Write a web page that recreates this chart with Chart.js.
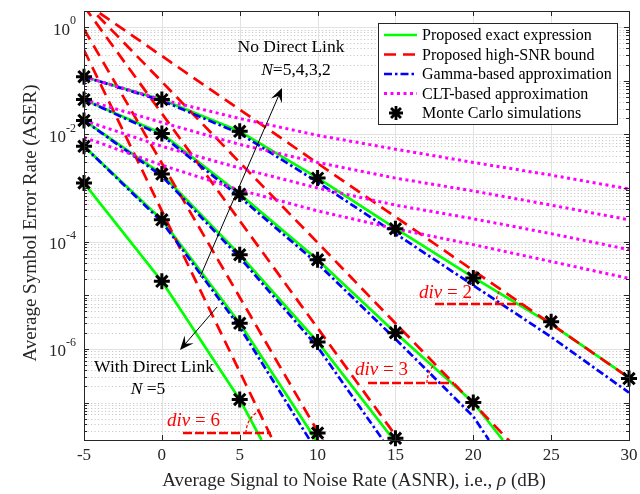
<!DOCTYPE html>
<html><head><meta charset="utf-8">
<script src="https://cdn.jsdelivr.net/npm/chart.js@4/dist/chart.umd.min.js"></script>
<style>html,body{margin:0;padding:0;background:#fff}#wrap{width:640px;height:494px}</style>
</head><body><div id="wrap"><canvas id="c" width="640" height="494"></canvas></div>
<script>
// ---------- data ----------
const snrDb = [-5, 0, 5, 10, 15, 20, 25, 30];
const xTicks = [-5, 0, 5, 10, 15, 20, 25, 30];
const yTickExponents = [0, -2, -4, -6];

// Monte Carlo simulations (No direct link N=2,3,4,5 ; With direct link N=5)
const mcNoDirectN2 = [0.119, 0.0445, 0.0114, 1.53e-3, 1.74e-4, 2.1e-5, 3.2e-6, 2.8e-7];
const mcNoDirectN3 = [0.0445, 0.0104, 7.7e-4, 4.6e-5, 2.0e-6, 1.0e-7, null, null];
const mcNoDirectN4 = [0.0182, 1.82e-3, 5.7e-5, 1.35e-6, 2.15e-8, null, null, null];
const mcNoDirectN5 = [6.0e-3, 2.55e-4, 3.0e-6, 2.7e-8, null, null, null, null];
const mcDirectN5   = [1.24e-3, 1.82e-5, 1.14e-7, null, null, null, null, null];

// Proposed exact expression
const xExactN2 = [-5, 0, 5, 10, 15, 20, 25, 30];
const exactNoDirectN2 = [0.119, 0.0445, 0.0114, 1.55e-3, 1.76e-4, 2.15e-5, 2.9e-6, 2.9e-7];
const xExactN3 = [-5, 0, 5, 10, 15, 20, 21.9];
const exactNoDirectN3 = [0.0445, 0.0104, 7.7e-4, 4.6e-5, 2.0e-6, 1.0e-7, 2e-8];
const xExactN4 = [-5, 0, 5, 10, 14.9];
const exactNoDirectN4 = [0.0182, 1.82e-3, 5.7e-5, 1.35e-6, 2e-8];
const xExactN5 = [-5, 0, 5, 9.9];
const exactNoDirectN5 = [6.0e-3, 2.55e-4, 3.0e-6, 2e-8];
const xExactD5 = [-5, 0, 5, 6.4];
const exactDirectN5 = [1.24e-3, 1.82e-5, 1.14e-7, 2e-8];

// Proposed high-SNR bound
const xBoundN2 = [-5, 0, 5, 10, 15, 20, 25, 30];
const boundNoDirectN2 = [2.9, 0.29, 0.029, 2.9e-3, 2.9e-4, 2.9e-5, 2.9e-6, 2.9e-7];
const xBoundN3 = [-5, 0, 5, 10, 15, 20, 25];
const boundNoDirectN3 = [3.0, 0.096, 3.0e-3, 9.6e-5, 3.0e-6, 9.6e-8, 3.0e-9];
const xBoundN4 = [-5, 0, 5, 10, 15, 20];
const boundNoDirectN4 = [2.45, 0.0245, 2.45e-4, 2.45e-6, 2.45e-8, 2.45e-10];
const xBoundN5 = [-5, 0, 5, 10, 15];
const boundNoDirectN5 = [0.92, 2.9e-3, 9.2e-6, 2.9e-8, 9.2e-11];
const xBoundD5 = [-5, 0, 5, 10];
const boundDirectN5 = [0.375, 3.75e-4, 3.75e-7, 3.75e-10];

// Gamma-based approximation
const xGammaN2 = [-5, 0, 5, 10, 15, 20, 25, 30];
const gammaNoDirectN2 = [0.119, 0.0426, 0.0104, 1.29e-3, 1.41e-4, 1.53e-5, 1.67e-6, 1.53e-7];
const xGammaN3 = [-5, 0, 5, 10, 15, 20, 21.0];
const gammaNoDirectN3 = [0.0445, 9.6e-3, 6.8e-4, 3.9e-5, 1.53e-6, 5.5e-8, 2e-8];
const xGammaN4 = [-5, 0, 5, 10, 14.2];
const gammaNoDirectN4 = [0.0182, 1.67e-3, 5.06e-5, 1.09e-6, 2e-8];
const xGammaN5 = [-5, 0, 5, 9.5];
const gammaNoDirectN5 = [6.0e-3, 2.35e-4, 2.55e-6, 2e-8];

// CLT-based approximation
const cltNoDirectN2 = [0.119, 0.0445, 0.0198, 9.6e-3, 5.3e-3, 3.0e-3, 1.74e-3, 9.6e-4];
const cltNoDirectN3 = [0.0445, 0.0167, 6.5e-3, 3.0e-3, 1.53e-3, 8.8e-4, 4.8e-4, 2.55e-4];
const cltNoDirectN4 = [0.0182, 6.0e-3, 2.35e-3, 1.0e-3, 4.8e-4, 2.67e-4, 1.41e-4, 7.1e-5];
const cltNoDirectN5 = [8.8e-3, 2.67e-3, 9.2e-4, 3.75e-4, 1.74e-4, 8.8e-5, 4.26e-5, 2.06e-5];

const legendLabels = ['Proposed exact expression', 'Proposed high-SNR bound', 'Gamma-based approximation', 'CLT-based approximation', 'Monte Carlo simulations'];

// ---------- helpers ----------
function zip(xs, ys) { const o = []; for (let i = 0; i < xs.length; i++) { if (ys[i] !== null && ys[i] !== undefined) o.push({x: xs[i], y: ys[i]}); } return o; }
const GREEN = '#00ff00', RED = '#ff0000', BLUE = '#0000ff', MAG = '#ff00ff';
const FONT = "'Liberation Serif', 'Times New Roman', serif";
const DASH_RED = [12, 7], DASH_BLUE = [8, 3, 2.5, 3], DASH_MAG = [3, 3.5];
function lineDs(label, data, color, dash, width, order) {
  return {label, data, borderColor: color, backgroundColor: color, borderWidth: width, borderDash: dash,
    pointRadius: 0, pointHoverRadius: 0, tension: 0, fill: false, order, borderCapStyle: 'butt', borderJoinStyle: 'round'};
}
function mcDs(label, values) {
  return {label, data: zip(snrDb, values), showLine: false, pointStyle: 'star', pointRadius: 8,
    pointBorderColor: '#000', pointBackgroundColor: '#000', pointBorderWidth: 3, order: 0, clip: false};
}

const datasets = [
  lineDs(legendLabels[0], zip(xExactN2, exactNoDirectN2), GREEN, [], 2.7, 5),
  lineDs(legendLabels[0], zip(xExactN3, exactNoDirectN3), GREEN, [], 2.7, 5),
  lineDs(legendLabels[0], zip(xExactN4, exactNoDirectN4), GREEN, [], 2.7, 5),
  lineDs(legendLabels[0], zip(xExactN5, exactNoDirectN5), GREEN, [], 2.7, 5),
  lineDs(legendLabels[0], zip(xExactD5, exactDirectN5), GREEN, [], 2.7, 5),
  lineDs(legendLabels[1], zip(xBoundN2, boundNoDirectN2), RED, DASH_RED, 2.7, 4),
  lineDs(legendLabels[1], zip(xBoundN3, boundNoDirectN3), RED, DASH_RED, 2.7, 4),
  lineDs(legendLabels[1], zip(xBoundN4, boundNoDirectN4), RED, DASH_RED, 2.7, 4),
  lineDs(legendLabels[1], zip(xBoundN5, boundNoDirectN5), RED, DASH_RED, 2.7, 4),
  lineDs(legendLabels[1], zip(xBoundD5, boundDirectN5), RED, DASH_RED, 2.7, 4),
  lineDs(legendLabels[2], zip(xGammaN2, gammaNoDirectN2), BLUE, DASH_BLUE, 2.7, 3),
  lineDs(legendLabels[2], zip(xGammaN3, gammaNoDirectN3), BLUE, DASH_BLUE, 2.7, 3),
  lineDs(legendLabels[2], zip(xGammaN4, gammaNoDirectN4), BLUE, DASH_BLUE, 2.7, 3),
  lineDs(legendLabels[2], zip(xGammaN5, gammaNoDirectN5), BLUE, DASH_BLUE, 2.7, 3),
  lineDs(legendLabels[3], zip(snrDb, cltNoDirectN2), MAG, DASH_MAG, 3, 2),
  lineDs(legendLabels[3], zip(snrDb, cltNoDirectN3), MAG, DASH_MAG, 3, 2),
  lineDs(legendLabels[3], zip(snrDb, cltNoDirectN4), MAG, DASH_MAG, 3, 2),
  lineDs(legendLabels[3], zip(snrDb, cltNoDirectN5), MAG, DASH_MAG, 3, 2),
  mcDs(legendLabels[4], mcNoDirectN2),
  mcDs(legendLabels[4], mcNoDirectN3),
  mcDs(legendLabels[4], mcNoDirectN4),
  mcDs(legendLabels[4], mcNoDirectN5),
  mcDs(legendLabels[4], mcDirectN5)
];

// ---------- drawing helpers ----------
function drawStar(ctx, x, y, r, w) {
  ctx.save(); ctx.strokeStyle = '#000'; ctx.lineWidth = w; ctx.beginPath();
  for (let k = 0; k < 4; k++) { const a = k * Math.PI / 4; ctx.moveTo(x - r * Math.cos(a), y - r * Math.sin(a)); ctx.lineTo(x + r * Math.cos(a), y + r * Math.sin(a)); }
  ctx.stroke(); ctx.restore();
}
function drawArrow(ctx, x1, y1, x2, y2) {
  ctx.save(); ctx.strokeStyle = '#000'; ctx.fillStyle = '#000'; ctx.lineWidth = 1;
  const ang = Math.atan2(y2 - y1, x2 - x1), L = 14, W = 6;
  const bx = x2 - L * Math.cos(ang), by = y2 - L * Math.sin(ang);
  ctx.beginPath(); ctx.moveTo(x1, y1); ctx.lineTo(x2 - 6 * Math.cos(ang), y2 - 6 * Math.sin(ang)); ctx.stroke();
  const px = -Math.sin(ang), py = Math.cos(ang);
  const nx = x2 - 0.6 * L * Math.cos(ang), ny = y2 - 0.6 * L * Math.sin(ang);
  ctx.beginPath(); ctx.moveTo(x2, y2); ctx.lineTo(bx + W * px, by + W * py); ctx.lineTo(nx, ny); ctx.lineTo(bx - W * px, by - W * py); ctx.closePath(); ctx.fill();
  ctx.restore();
}
function drawPieces(ctx, pieces, x, y, align) {
  let total = 0; const ws = pieces.map(p => { ctx.font = p[1]; const w = ctx.measureText(p[0]).width; total += w; return w; });
  let cx = align === 'center' ? x - total / 2 : x;
  ctx.textAlign = 'left';
  pieces.forEach((p, i) => { ctx.font = p[1]; ctx.fillText(p[0], cx, y); cx += ws[i]; });
}
function divMark(ctx, label, tx, ty, x1, x2, ly, ang, rad) {
  ctx.save(); ctx.fillStyle = RED; ctx.textBaseline = 'middle';
  drawPieces(ctx, [['div', 'italic 19px ' + FONT], [' = ' + label, '19px ' + FONT]], tx, ty, 'left');
  ctx.strokeStyle = RED; ctx.lineWidth = 2.5; ctx.setLineDash([9, 3]);
  ctx.beginPath(); ctx.moveTo(x1, ly); ctx.lineTo(x2, ly); ctx.stroke();
  ctx.lineWidth = 1.3; ctx.setLineDash([3, 2]);
  ctx.beginPath(); ctx.arc(x2, ly, rad, Math.PI, Math.PI + ang * Math.PI / 180); ctx.stroke();
  ctx.restore();
}

const gridPlugin = {
  id: 'grid',
  beforeDatasetsDraw(chart) {
    const ctx = chart.ctx, a = chart.chartArea, xs = chart.scales.x, ys = chart.scales.y;
    ctx.save();
    ctx.strokeStyle = '#c9c9c9'; ctx.lineWidth = 1; ctx.setLineDash([1.2, 2.3]);
    for (let e = -8; e <= 0; e++) for (let m = 1; m <= 9; m++) {
      const v = m * Math.pow(10, e);
      if (v < 2e-8 || v > 2) continue;
      if (m === 1 && yTickExponents.includes(e)) continue;
      const py = Math.round(ys.getPixelForValue(v)) + 0.5;
      ctx.beginPath(); ctx.moveTo(a.left, py); ctx.lineTo(a.right, py); ctx.stroke();
    }
    ctx.setLineDash([]); ctx.strokeStyle = '#e2e2e2';
    xTicks.forEach(t => { const px = Math.round(xs.getPixelForValue(t)) + 0.5; ctx.beginPath(); ctx.moveTo(px, a.top); ctx.lineTo(px, a.bottom); ctx.stroke(); });
    yTickExponents.forEach(e => { const py = Math.round(ys.getPixelForValue(Math.pow(10, e))) + 0.5; ctx.beginPath(); ctx.moveTo(a.left, py); ctx.lineTo(a.right, py); ctx.stroke(); });
    ctx.restore();
  }
};

const decorPlugin = {
  id: 'decor',
  afterDraw(chart) {
    const ctx = chart.ctx, a = chart.chartArea, xs = chart.scales.x, ys = chart.scales.y;
    ctx.save();
    ctx.strokeStyle = '#262626'; ctx.lineWidth = 1;
    ctx.strokeRect(Math.round(a.left) + 0.5, Math.round(a.top) + 0.5, Math.round(a.right - a.left), Math.round(a.bottom - a.top));
    ctx.beginPath();
    xTicks.forEach(t => { const px = Math.round(xs.getPixelForValue(t)) + 0.5; ctx.moveTo(px, a.bottom); ctx.lineTo(px, a.bottom - 5); ctx.moveTo(px, a.top); ctx.lineTo(px, a.top + 5); });
    for (let e = -8; e <= 0; e++) for (let m = 1; m <= 9; m++) {
      const v = m * Math.pow(10, e); if (v < 2e-8 || v > 2) continue;
      const py = Math.round(ys.getPixelForValue(v)) + 0.5; const len = m === 1 ? 5 : 3;
      ctx.moveTo(a.left, py); ctx.lineTo(a.left + len, py); ctx.moveTo(a.right, py); ctx.lineTo(a.right - len, py);
    }
    ctx.stroke();
    // tick labels
    ctx.fillStyle = '#262626'; ctx.textBaseline = 'middle'; ctx.textAlign = 'center'; ctx.font = '17px ' + FONT;
    xTicks.forEach(t => ctx.fillText(String(t), xs.getPixelForValue(t), a.bottom + 16));
    yTickExponents.forEach(e => {
      const py = ys.getPixelForValue(Math.pow(10, e));
      ctx.font = '12px ' + FONT; const ex = String(e); const ew = ctx.measureText(ex).width;
      ctx.textAlign = 'left'; ctx.fillText(ex, a.left - 8 - ew, py - 6);
      ctx.font = '17px ' + FONT; ctx.textAlign = 'right'; ctx.fillText('10', a.left - 8 - ew, py + 3);
    });
    // axis titles
    ctx.textAlign = 'center'; ctx.font = '19px ' + FONT;
    ctx.save(); ctx.translate(31, 223); ctx.rotate(-Math.PI / 2); ctx.fillText('Average Symbol Error Rate (ASER)', 0, 0); ctx.restore();
    drawPieces(ctx, [['Average Signal to Noise Rate (ASNR), i.e., ', '19px ' + FONT], ['\u03C1', 'italic 19px ' + FONT], [' (dB)', '19px ' + FONT]], 354, 481, 'center');

    // annotations
    ctx.fillStyle = '#000'; ctx.textBaseline = 'middle';
    drawPieces(ctx, [['No Direct Link', '17.5px ' + FONT]], 291, 47, 'center');
    drawPieces(ctx, [['N', 'italic 17.5px ' + FONT], ['=5,4,3,2', '17.5px ' + FONT]], 296, 70, 'center');
    drawPieces(ctx, [['With Direct Link', '17.5px ' + FONT]], 154, 367, 'center');
    drawPieces(ctx, [['N', 'italic 17.5px ' + FONT], [' =5', '17.5px ' + FONT]], 148, 389, 'center');
    drawArrow(ctx, 200, 277, 282, 88);
    drawArrow(ctx, 217, 307, 180, 350);
    divMark(ctx, '2', 419, 293, 435, 523, 304, 34.7, 27);
    divMark(ctx, '3', 355, 370, 368, 454, 383, 46, 27);
    divMark(ctx, '6', 167, 421, 183, 271, 433, 64, 25);

    // legend
    const lx = 378.5, ly = 23.5, lw = 239, lh = 101;
    ctx.fillStyle = '#fff'; ctx.fillRect(lx, ly, lw, lh);
    ctx.strokeStyle = '#262626'; ctx.lineWidth = 1; ctx.setLineDash([]); ctx.strokeRect(lx, ly, lw, lh);
    const rows = [35, 54.5, 74, 93.5, 113];
    const styles = [[GREEN, [], 2.7], [RED, DASH_RED, 2.7], [BLUE, DASH_BLUE, 2.7], [MAG, DASH_MAG, 3]];
    styles.forEach((s, i) => {
      ctx.strokeStyle = s[0]; ctx.lineWidth = s[2]; ctx.setLineDash(s[1]); ctx.lineCap = 'butt';
      ctx.beginPath(); ctx.moveTo(384, rows[i]); ctx.lineTo(417, rows[i]); ctx.stroke();
    });
    ctx.setLineDash([]);
    drawStar(ctx, 396, rows[4], 7, 2.8);
    ctx.fillStyle = '#000'; ctx.font = '16px ' + FONT; ctx.textAlign = 'left'; ctx.textBaseline = 'middle';
    legendLabels.forEach((t, i) => ctx.fillText(t, 422, rows[i] + 1));
    ctx.restore();
  }
};

new Chart(document.getElementById('c').getContext('2d'), {
  type: 'line',
  data: {datasets},
  options: {
    responsive: false, animation: false, devicePixelRatio: 1, events: [],
    layout: {padding: {left: 84, top: 8, right: 10, bottom: 54}},
    scales: {
      x: {type: 'linear', min: -5, max: 30, display: false},
      y: {type: 'logarithmic', min: 2e-8, max: 2, display: false}
    },
    plugins: {legend: {display: false}, tooltip: {enabled: false}}
  },
  plugins: [gridPlugin, decorPlugin]
});
</script>
</body></html>
